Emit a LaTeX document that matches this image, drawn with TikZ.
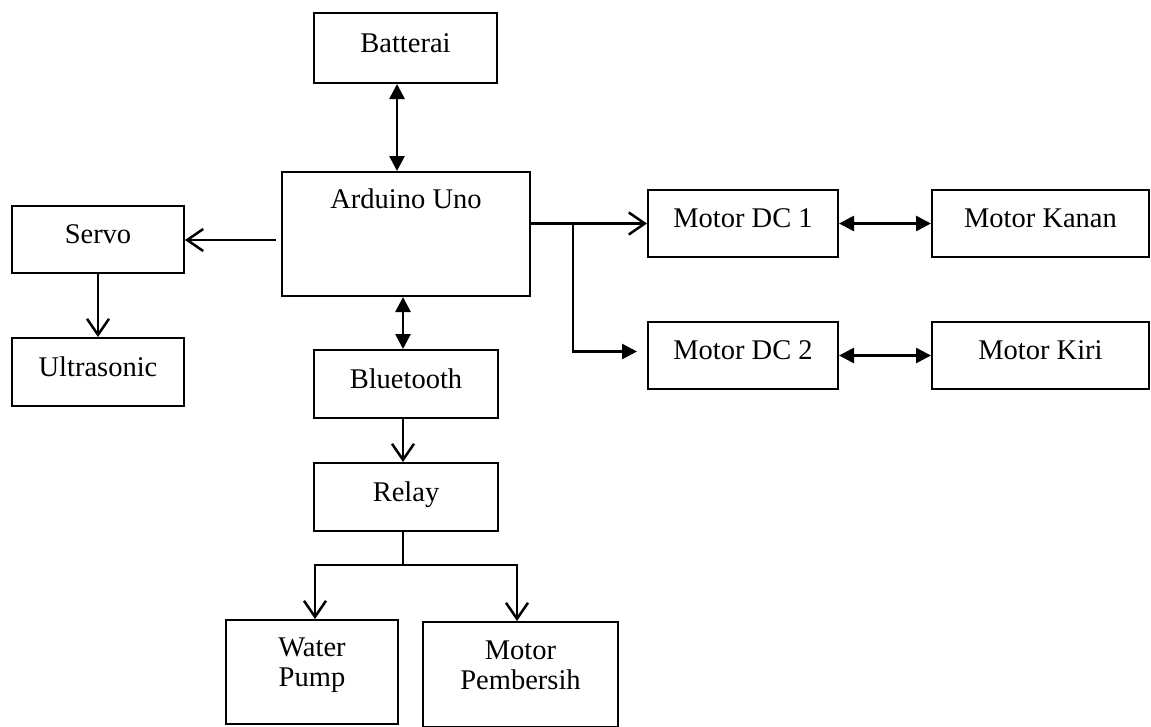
\documentclass[tikz,border=0pt]{standalone}
\usepackage{fontspec}
\setmainfont{Liberation Serif}
\usetikzlibrary{arrows.meta,calc}
\begin{document}
\begin{tikzpicture}[x=1pt,y=-1pt,
  box/.style={draw, line width=2pt, inner sep=0pt,
    font=\fontsize{28.5}{30}\selectfont, text height=20pt, text depth=12pt},
  twoline/.style={box, align=center, text height={}, text depth={}},
  conn/.style={line width=2.7pt},
  openarr/.style={conn, -{Straight Barb[length=16pt,width=22pt,line width=2.5pt]}},
  fillarr/.style={conn, -{Triangle[length=15pt,width=15pt]}},
  dblarr/.style={conn, {Triangle[length=15pt,width=15pt]}-{Triangle[length=15pt,width=15pt]}}]
\useasboundingbox (0,0) rectangle (1151,726);

\node[box, minimum width=183pt, minimum height=70pt] (bat) at (405.5,48) {Batterai};
\node[box, minimum width=248pt, minimum height=124pt, text height=20pt, text depth=72pt] (ard) at (406,234) {Arduino Uno};
\node[box, minimum width=172pt, minimum height=67pt] (servo) at (98,239.5) {Servo};
\node[box, minimum width=172pt, minimum height=68pt] (ultra) at (98,372) {Ultrasonic};
\node[box, minimum width=184pt, minimum height=68pt] (bt) at (406,384) {Bluetooth};
\node[box, minimum width=184pt, minimum height=68pt] (relay) at (406,497) {Relay};
\node[twoline, minimum width=172pt, minimum height=104pt] (wp) at (312,672) {Water\\Pump\rule[-19pt]{0pt}{19pt}};
\node[twoline, minimum width=195pt, minimum height=105pt] (mp) at (520.5,674.5) {Motor\\Pembersih\rule[-19pt]{0pt}{19pt}};
\node[box, minimum width=190pt, minimum height=67pt] (dc1) at (743,223.5) {Motor DC 1};
\node[box, minimum width=190pt, minimum height=67pt] (dc2) at (743,355.5) {Motor DC 2};
\node[box, minimum width=217pt, minimum height=67pt] (kanan) at (1040.5,223.5) {Motor Kanan};
\node[box, minimum width=217pt, minimum height=67pt] (kiri) at (1040.5,355.5) {Motor Kiri};

\coordinate (cx) at (397,0);
\coordinate (bx) at (403,0);
\coordinate (aw) at (276,240);
\coordinate (br) at (573,223.5);
\coordinate (rj) at (403,565);
\coordinate (lx) at (315,0);
\coordinate (rx) at (517,0);

\draw[dblarr] (bat.south -| cx) -- (ard.north -| cx);
\draw[openarr] (aw) -- (servo.east |- aw);
\draw[openarr] (servo.south) -- (ultra.north);
\draw[dblarr] (ard.south -| bx) -- (bt.north -| bx);
\draw[openarr] (bt.south -| bx) -- (relay.north -| bx);
\draw[conn] (relay.south -| bx) -- (rj);
\draw[openarr] (rj) -| (wp.north -| lx);
\draw[openarr] (rj) -| (mp.north -| rx);
\draw[openarr] (ard.east |- dc1.west) -- (dc1.west);
\draw[fillarr] (br) |- ([xshift=-10pt,yshift=4pt]dc2.west);
\draw[dblarr] (dc1.east) -- (kanan.west);
\draw[dblarr] (dc2.east) -- (kiri.west);
\end{tikzpicture}
\end{document}
